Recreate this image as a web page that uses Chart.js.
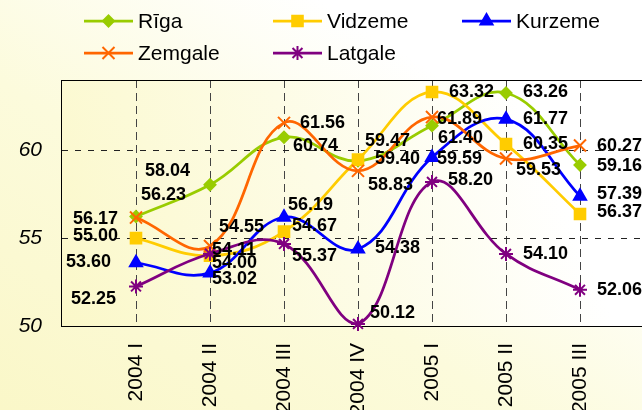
<!DOCTYPE html>
<html>
<head>
<meta charset="utf-8">
<script src="https://cdn.jsdelivr.net/npm/chart.js"></script>
<style>
  html, body { margin: 0; padding: 0; width: 642px; height: 410px; overflow: hidden; }
  body { position: relative; background: linear-gradient(to top right, #faf7c8 0%, #fcfbdc 40%, #ffffff 75%); }
  #chart { position: absolute; left: 0; top: 0; }
</style>
</head>
<body>
<canvas id="chart" width="700" height="430"></canvas>
<script>
// Quarters on the x axis
const periods = ['2004 I', '2004 II', '2004 III', '2004 IV', '2005 I', '2005 II', '2005 III'];

// Values per region
const riga    = [56.23, 58.04, 60.74, 59.40, 61.40, 63.26, 59.16];
const vidzeme = [55.00, 54.00, 55.37, 59.47, 63.32, 60.35, 56.37];
const kurzeme = [53.60, 53.02, 56.19, 54.38, 59.59, 61.77, 57.39];
const zemgale = [56.17, 54.55, 61.56, 58.83, 61.89, 59.53, 60.27];
const latgale = [52.25, 54.11, 54.67, 50.12, 58.20, 54.10, 52.06];

// Where each value label sits relative to its point (px)
const rigaLabelPos    = [[5, -21], [-65, -14], [9, 9], [17, -2], [6, 12], [17, -1], [17, 1]];
const vidzemeLabelPos = [[-63, -2], [2, 7], [8, 24], [7, -19], [17, 0], [17, 0], [17, -2]];
const kurzemeLabelPos = [[-70, -1], [2, 6], [4, -12], [17, -1], [5, 2], [17, 0], [17, -2]];
const zemgaleLabelPos = [[-63, 1], [9, -19], [16, 0], [10, 14], [5, 2], [10, 11], [17, 0]];
const latgaleLabelPos = [[-65, 13], [2, -4], [8, -18], [12, -11], [16, -2], [17, 0], [17, 0]];

const FONT = "'Liberation Sans', Arial, sans-serif";
Chart.defaults.font.family = FONT;
Chart.defaults.color = '#000';

function series(label, values, color, style, radius, order, labelPos) {
  return {
    label: label,
    data: values.map((v, i) => ({ x: i, y: v })),
    borderColor: color,
    backgroundColor: color,
    borderWidth: 2.75,
    pointStyle: style,
    pointRadius: radius,
    pointBorderWidth: 2,
    pointBackgroundColor: color,
    pointBorderColor: color,
    tension: 0.4,
    clip: false,
    order: order,
    labelPos: labelPos
  };
}

// plot area background + frame
const plotFrame = {
  id: 'plotFrame',
  beforeDraw(chart) {
    const { ctx, chartArea: a } = chart;
    const g = ctx.createLinearGradient(a.left, a.bottom, a.right, a.top);
    g.addColorStop(0, '#fbf8c9');
    g.addColorStop(0.45, '#fdfce6');
    g.addColorStop(0.8, '#ffffff');
    ctx.save();
    ctx.fillStyle = g;
    ctx.fillRect(a.left, a.top, a.right - a.left, a.bottom - a.top);
    ctx.restore();
  },
  beforeDatasetsDraw(chart) {
    const { ctx, chartArea: a } = chart;
    ctx.save();
    ctx.strokeStyle = '#000';
    ctx.lineWidth = 1;
    ctx.setLineDash([]);
    ctx.strokeRect(a.left - 0.5, a.top + 0.5, a.right - a.left, a.bottom - a.top);
    ctx.restore();
  }
};

// value labels
const valueLabels = {
  id: 'valueLabels',
  afterDatasetsDraw(chart) {
    const ctx = chart.ctx;
    ctx.save();
    ctx.font = 'bold 18px ' + FONT;
    ctx.fillStyle = '#000';
    ctx.textAlign = 'left';
    ctx.textBaseline = 'middle';
    chart.data.datasets.forEach((ds, di) => {
      const meta = chart.getDatasetMeta(di);
      meta.data.forEach((pt, i) => {
        const off = ds.labelPos[i];
        ctx.fillText(ds.data[i].y.toFixed(2), pt.x + off[0], pt.y + off[1]);
      });
    });
    ctx.restore();
  }
};

// legend in a fixed 3-column grid
const gridLegend = {
  id: 'gridLegend',
  afterDraw(chart) {
    const ctx = chart.ctx;
    ctx.save();
    chart.data.datasets.forEach((ds, i) => {
      const x0 = 84 + (i % 3) * 189;
      const y = 21 + Math.floor(i / 3) * 32;
      ctx.strokeStyle = ds.borderColor;
      ctx.fillStyle = ds.borderColor;
      ctx.lineWidth = 2.75;
      ctx.beginPath();
      ctx.moveTo(x0, y);
      ctx.lineTo(x0 + 49, y);
      ctx.stroke();
      ctx.lineWidth = 2;
      Chart.helpers.drawPoint(ctx, { pointStyle: ds.pointStyle, radius: ds.pointRadius, borderWidth: 2, rotation: 0 }, x0 + 24.5, y);
      ctx.fillStyle = '#000';
      ctx.font = '21px ' + FONT;
      ctx.textAlign = 'left';
      ctx.textBaseline = 'middle';
      ctx.fillText(ds.label, x0 + 54, y + 1);
    });
    ctx.restore();
  }
};

new Chart(document.getElementById('chart'), {
  type: 'line',
  data: {
    datasets: [
      series('Rīga', riga, '#99cc00', 'rectRot', 5.5, 5, rigaLabelPos),
      series('Vidzeme', vidzeme, '#ffcc00', 'rect', 7.5, 4, vidzemeLabelPos),
      series('Kurzeme', kurzeme, '#0000ff', 'triangle', 7, 3, kurzemeLabelPos),
      series('Zemgale', zemgale, '#ff6600', 'crossRot', 8.5, 2, zemgaleLabelPos),
      series('Latgale', latgale, '#800080', 'star', 7, 1, latgaleLabelPos)
    ]
  },
  options: {
    responsive: false,
    animation: false,
    devicePixelRatio: 1,
    layout: { padding: { top: 80, right: 46, left: 0, bottom: 0 } },
    plugins: { legend: { display: false }, tooltip: { enabled: false } },
    scales: {
      x: {
        type: 'linear',
        min: -1,
        max: 7,
        afterFit(scale) { scale.height = 104; },
        ticks: {
          stepSize: 1,
          autoSkip: false,
          minRotation: 90,
          maxRotation: 90,
          padding: 17,
          font: { size: 21 },
          callback: v => periods[v] || ''
        },
        grid: {
          drawTicks: false,
          lineWidth: 1,
          color: c => c.tick && c.tick.value === -1 ? 'rgba(0,0,0,0)' : '#444'
        },
        border: { display: false, dash: [8, 5] }
      },
      y: {
        min: 50,
        max: 64,
        afterFit(scale) { scale.width = 62; },
        ticks: {
          stepSize: 5,
          includeBounds: false,
          padding: 20,
          font: { size: 21, style: 'italic' }
        },
        grid: {
          drawTicks: false,
          lineWidth: 1,
          color: c => c.tick && c.tick.value === 50 ? 'rgba(0,0,0,0)' : '#222'
        },
        border: { display: false, dash: [6, 7] }
      }
    }
  },
  plugins: [plotFrame, valueLabels, gridLegend]
});
</script>
</body>
</html>
